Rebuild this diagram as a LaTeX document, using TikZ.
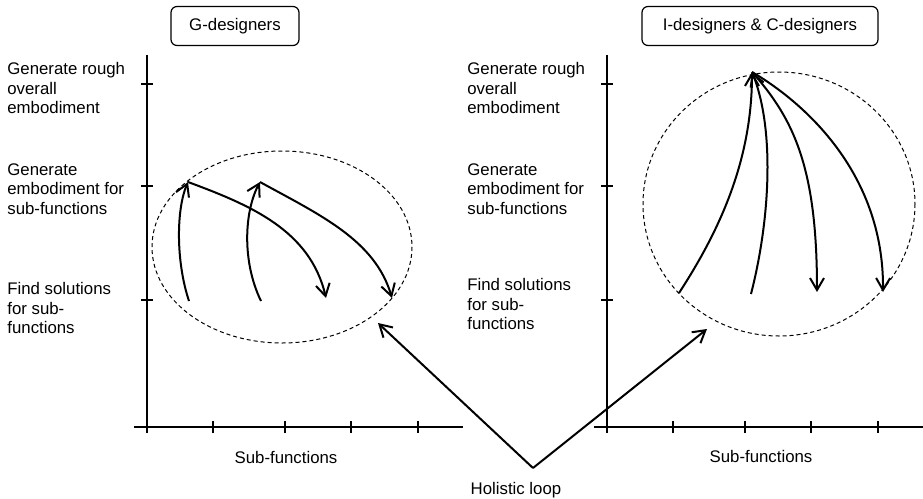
\documentclass[tikz,border=0pt]{standalone}
\usepackage{fontspec}
\setmainfont{Liberation Sans}
\usetikzlibrary{arrows.meta,positioning,calc}

\tikzset{
  axis/.style={line width=1pt},
  zone/.style={dashed,line width=0.5pt,dash pattern=on 2pt off 1.5pt},
  flow/.style={line width=1pt,-{Straight Barb[length=6pt,width=7pt]}},
  lbl/.style={font=\fontsize{8.4}{9.8}\selectfont,align=left,inner sep=0pt},
  groupbox/.style={draw,line width=0.6pt,rounded corners=3pt,minimum width=64pt,
    minimum height=19.5pt,inner sep=0pt,font=\fontsize{8.4}{9.8}\selectfont}
}

\begin{document}
\begin{tikzpicture}[x=0.5pt,y=-0.5pt]
  \useasboundingbox (0,0) rectangle (923,499);
  % titles
  \node[groupbox] (gtitle) at (235,26) {G-designers};
  \node[groupbox,minimum width=118pt] (ictitle) at (760,26) {I-designers \& C-designers};
  % axes
  \foreach \o in {0,460} {
    \draw[axis] (147+\o,55) -- (147+\o,433);
    \draw[axis] (134+\o,427) -- (463+\o,427);
    \foreach \x in {213,285,351,418} \draw[axis] (\x+\o,421) -- (\x+\o,433);
    \foreach \y in {84,186,300} \draw[axis] (141+\o,\y) -- (153+\o,\y);
  }
  % level labels
  \node[lbl,anchor=west] (gl1) at (7,88) {Generate rough\\overall\\embodiment};
  \node[lbl,anchor=west] (gl2) at (7,189) {Generate\\embodiment for\\sub-functions};
  \node[lbl,anchor=west] (gl3) at (7,308) {Find solutions\\for sub-\\functions};
  \node[lbl,anchor=west] (il1) at (467,88) {Generate rough\\overall\\embodiment};
  \node[lbl,anchor=west] (il2) at (467,189) {Generate\\embodiment for\\sub-functions};
  \node[lbl,anchor=west] (il3) at (467,304) {Find solutions\\for sub-\\functions};
  \node[lbl] (gx) at (286,457) {Sub-functions};
  \node[lbl] (ix) at (761,456) {Sub-functions};
  % zones
  \draw[zone] (282,247) ellipse [x radius=130,y radius=96];
  \draw[zone] (779,204) ellipse [x radius=136,y radius=132];
  % G-designers iterations
  \coordinate (g1s) at (189,301);
  \coordinate (g1t) at (188,182);
  \coordinate (g2s) at (261,301);
  \coordinate (g2t) at (260,182);
  \coordinate (g3e) at (326,298);
  \coordinate (g4e) at (392,298);
  \draw[flow] (g1s) .. controls (176,262) and (176,210) .. (g1t);
  \draw[flow] (g2s) .. controls (242,262) and (244,212) .. (g2t);
  \draw[flow] (g1t) .. controls (250,205) and (310,230) .. (g3e);
  \draw[flow] (g2t) .. controls (320,215) and (375,240) .. (g4e);
  % I/C-designers iterations
  \coordinate (rtop) at (752,72);
  \coordinate (ra) at (679,293);
  \coordinate (rb) at (751,294);
  \coordinate (rc) at (817,292);
  \coordinate (rd) at (883,292);
  \draw[flow] (ra) .. controls (720,230) and (752,160) .. (rtop);
  \draw[flow] (rb) .. controls (770,220) and (775,130) .. (rtop);
  \draw[flow] (rtop) .. controls (795,120) and (817,170) .. (rc);
  \draw[flow] (rtop) .. controls (800,100) and (884,170) .. (rd);
  % holistic loop
  \node[lbl] (loop) at (516,490) {Holistic loop};
  \coordinate (apex) at (533,468);
  \coordinate (lhit) at (378,323);
  \coordinate (rhit) at (707,329);
  \draw[flow] (apex) -- (lhit);
  \draw[flow] (apex) -- (rhit);
\end{tikzpicture}
\end{document}
